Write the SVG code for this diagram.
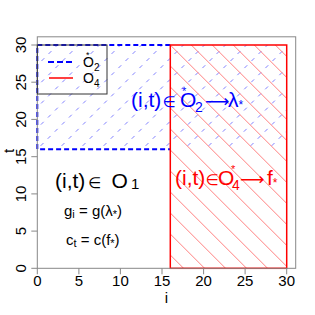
<svg xmlns="http://www.w3.org/2000/svg" width="315" height="315" viewBox="0 0 315 315">
<style>
text{font-family:"Liberation Sans",Arial,sans-serif;fill:#000}
.tick{font-size:15px}
.ax{stroke:#888;stroke-width:1;fill:none}
.sym{font-family:"DejaVu Sans",sans-serif}
.blue{fill:#0000ff}
.red{fill:#ff0000}
</style>
<defs>
<clipPath id="cb"><rect x="37.3" y="45" width="249.4" height="104.2"/></clipPath>
<clipPath id="cr"><rect x="170.3" y="45" width="116.4" height="223.3"/></clipPath>
</defs>
<rect width="315" height="315" fill="#fff"/>
<g id="blue-region">
<path clip-path="url(#cb)" fill="none" stroke="#8080ff" stroke-width="1" stroke-dasharray="4 6" d="M-57.5 160L72.5 30M-36.5 160L93.5 30M-15.5 160L114.5 30M5.5 160L135.5 30M26.5 160L156.5 30M47.5 160L177.5 30M68.5 160L198.5 30M89.5 160L219.5 30M110.5 160L240.5 30M131.5 160L261.5 30M152.5 160L282.5 30M173.5 160L303.5 30M194.5 160L324.5 30M215.5 160L345.5 30M236.5 160L366.5 30M257.5 160L387.5 30"/>
<path d="M170.3 45H37.3V149.2H170.3" fill="none" stroke="#0000ff" stroke-width="2" stroke-dasharray="5 3"/>
</g>
<g id="red-region">
<path clip-path="url(#cr)" fill="none" stroke="#ff8080" stroke-width="1" d="M260.3 30L510.3 280M239.3 30L489.3 280M218.3 30L468.3 280M197.3 30L447.3 280M176.3 30L426.3 280M155.3 30L405.3 280M134.3 30L384.3 280M113.3 30L363.3 280M92.3 30L342.3 280M71.3 30L321.3 280M50.3 30L300.3 280M29.3 30L279.3 280M8.3 30L258.3 280M-12.7 30L237.3 280M-33.7 30L216.3 280M-54.7 30L195.3 280"/>
<rect x="170.3" y="45" width="116.4" height="223.3" fill="none" stroke="#ff0000" stroke-width="1.5"/>
</g>
<g id="axes">
<rect class="ax" x="37.3" y="36.8" width="258.4" height="231.5"/>
<path class="ax" d="M37.3 268.3v6M78.9 268.3v6M120.4 268.3v6M162 268.3v6M203.6 268.3v6M245.1 268.3v6M286.7 268.3v6M37.3 268.3h-6M37.3 231.1h-6M37.3 193.9h-6M37.3 156.7h-6M37.3 119.4h-6M37.3 82.2h-6M37.3 45h-6"/>
<g class="tick" text-anchor="middle">
<text x="37.3" y="286">0</text><text x="78.9" y="286">5</text><text x="120.4" y="286">10</text><text x="162" y="286">15</text><text x="203.6" y="286">20</text><text x="245.1" y="286">25</text><text x="286.7" y="286">30</text>
<text transform="translate(26 268.3) rotate(-90)">0</text>
<text transform="translate(26 231.1) rotate(-90)">5</text>
<text transform="translate(26 193.9) rotate(-90)">10</text>
<text transform="translate(26 156.7) rotate(-90)">15</text>
<text transform="translate(26 119.4) rotate(-90)">20</text>
<text transform="translate(26 82.2) rotate(-90)">25</text>
<text transform="translate(26 45) rotate(-90)">30</text>
<text x="166.5" y="303">i</text>
<text transform="translate(13.5 151) rotate(-90)">t</text>
</g>
</g>
<g id="legend">
<rect x="37.3" y="45" width="69.7" height="49" fill="none" stroke="#333" stroke-width="1"/>
<line x1="48" y1="62" x2="73" y2="62" stroke="#0000ff" stroke-width="2" stroke-dasharray="6 3"/>
<line x1="49" y1="78" x2="73" y2="78" stroke="#ff0000" stroke-width="1.5"/>
<text x="83" y="67.3" font-size="14">O<tspan font-size="10" dy="4">2</tspan><tspan font-size="9" x="86" dy="-13.5">*</tspan></text>
<text x="83" y="83.3" font-size="14">O<tspan font-size="10" dy="4">4</tspan></text>
</g>
<g id="label-O2">
<text y="107" font-size="21" class="blue"><tspan x="131">(i,t)</tspan><tspan x="162.5" class="sym" font-size="15">∈</tspan><tspan x="180">O</tspan><tspan x="195" dy="5" font-size="14">2</tspan><tspan x="182" dy="-17" font-size="11">*</tspan><tspan x="205" dy="12" class="sym" font-size="17">⟶</tspan><tspan x="228">λ</tspan><tspan dy="2" font-size="12">*</tspan></text>
</g>
<g id="label-O4">
<text y="185" font-size="21" class="red"><tspan x="175">(i,t)</tspan><tspan x="205.5" class="sym" font-size="15">∈</tspan><tspan x="218">O</tspan><tspan x="232" dy="5" font-size="14">4</tspan><tspan x="231" dy="-17" font-size="11">*</tspan><tspan x="240" dy="12" class="sym" font-size="17">⟶</tspan><tspan x="267">f</tspan><tspan dy="2" font-size="12">*</tspan></text>
</g>
<g id="label-O1">
<text y="188" font-size="21"><tspan x="55">(i,t)</tspan><tspan x="88" class="sym" font-size="15">∈</tspan><tspan x="111.5">O</tspan><tspan x="131" dy="1" font-size="15">1</tspan></text>
<text y="216" font-size="15"><tspan x="64">g</tspan><tspan dy="2" font-size="11">i</tspan><tspan dy="-2"> = g(λ</tspan><tspan dy="2" font-size="11">*</tspan><tspan dy="-2">)</tspan></text>
<text y="245" font-size="15"><tspan x="66">c</tspan><tspan dy="2" font-size="11">t</tspan><tspan dy="-2"> = c(f</tspan><tspan dy="2" font-size="11">*</tspan><tspan dy="-2">)</tspan></text>
</g>
</svg>
